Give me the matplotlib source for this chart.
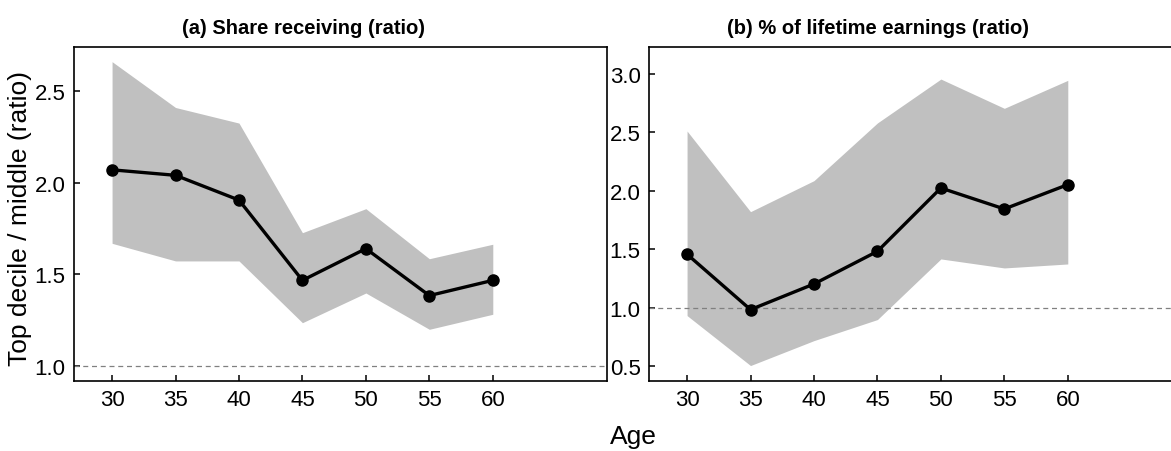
import numpy as np
import matplotlib.pyplot as plt

plt.rcParams['font.family'] = ['Liberation Sans', 'DejaVu Sans']

# ages on the x axis
ages = [30, 35, 40, 45, 50, 55, 60]

# panel (a): share receiving, top decile / middle
share_mid = [2.07, 2.04, 1.905, 1.467, 1.64, 1.384, 1.467]
share_hi = [2.66, 2.41, 2.325, 1.727, 1.858, 1.585, 1.664]
share_lo = [1.669, 1.573, 1.573, 1.236, 1.398, 1.20, 1.282]

# panel (b): % of lifetime earnings, top decile / middle
earn_mid = [1.457, 0.984, 1.203, 1.482, 2.023, 1.844, 2.052]
earn_hi = [2.51, 1.821, 2.086, 2.579, 2.954, 2.704, 2.943]
earn_lo = [0.933, 0.506, 0.719, 0.899, 1.417, 1.34, 1.374]

titles = ["(a) Share receiving (ratio)", "(b) % of lifetime earnings (ratio)"]
yticks_a = [1.0, 1.5, 2.0, 2.5]
yticks_b = [0.5, 1.0, 1.5, 2.0, 2.5, 3.0]

W, H = 1171, 452
fig = plt.figure(figsize=(W / 100, H / 100), dpi=100)

ax_w, ax_h = 533 / W, 334 / H
bottom = (H - 382) / H
ax1 = fig.add_axes([74 / W, bottom, ax_w, ax_h])
ax2 = fig.add_axes([649 / W, bottom, ax_w, ax_h])

panels = [
    (ax1, share_mid, share_hi, share_lo, yticks_a, (0.918, 2.74)),
    (ax2, earn_mid, earn_hi, earn_lo, yticks_b, (0.374, 3.228)),
]

for (ax, mid, hi, lo, yt, ylim), title in zip(panels, titles):
    ax.fill_between(ages, lo, hi, color='#c0c0c0', linewidth=0, zorder=1)
    ax.axhline(1.0, color='#808080', linestyle=(0, (4, 3)), linewidth=0.9, zorder=2)
    ax.plot(ages, mid, color='black', linewidth=2.4, marker='o',
            markersize=8, zorder=3)
    ax.set_xlim(27, 69)
    ax.set_ylim(*ylim)
    ax.set_xticks(ages)
    ax.set_yticks(yt)
    ax.set_yticklabels([f"{v:.1f}" for v in yt])
    ax.tick_params(direction='in', length=4, width=1.1, labelsize=16,
                   top=False, right=False, pad=6)
    for s in ax.spines.values():
        s.set_linewidth(1.2)
    ax.set_title(title, fontsize=14.5, fontweight='bold', x=0.43, pad=10)

fig.text(20 / W, 1 - 218 / H, "Top decile / middle (ratio)", rotation=90,
         ha='center', va='center', fontsize=19)
fig.text(633 / W, 1 - 437 / H, "Age", ha='center', va='center', fontsize=19)

fig.savefig('out.png', dpi=100)
